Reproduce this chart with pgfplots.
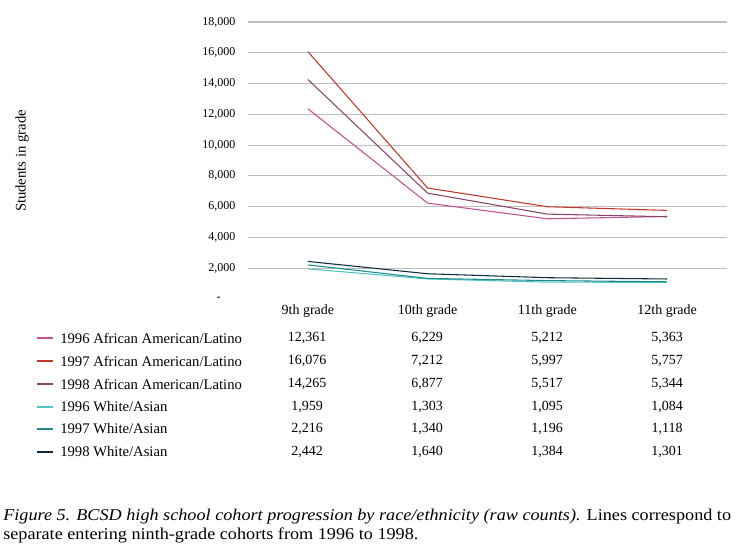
\documentclass[border=0pt]{standalone}
\usepackage{fontspec}
\setmainfont{Liberation Serif}
\newfontfamily\capfont[FakeStretch=1.1]{Liberation Serif}
\usepackage{pgfplots}
\pgfplotsset{compat=1.18}

\definecolor{aa96}{HTML}{C4508E}
\definecolor{aa97}{HTML}{C0392B}
\definecolor{aa98}{HTML}{86446A}
\definecolor{wa96}{HTML}{4EC3C3}
\definecolor{wa97}{HTML}{1F8A8C}
\definecolor{wa98}{HTML}{0F2C3C}

\begin{document}
\begin{tikzpicture}[x=0.75pt,y=-0.75pt]
\useasboundingbox (0,0) rectangle (738,549);

\begin{axis}[
  at={(186pt,-224.25pt)}, anchor=south west,
  scale only axis,
  width=359.25pt, height=207.75pt,
  xmin=-0.5, xmax=3.5,
  ymin=0, ymax=18000,
  axis line style={draw=none},
  tick style={draw=none},
  scaled y ticks=false,
  xtick={0,1,2,3},
  xticklabels={9th grade,10th grade,11th grade,12th grade},
  xticklabel style={font=\fontsize{10.5}{12}\selectfont, yshift=-1pt},
  ytick={2000,4000,...,18000},
  yticklabels={{2,000},{4,000},{6,000},{8,000},{10,000},{12,000},{14,000},{16,000},{18,000}},
  extra y ticks={0},
  extra y tick labels={{-\hspace*{11pt}}},
  extra y tick style={grid=none},
  yticklabel style={font=\fontsize{9}{11}\selectfont, xshift=-6pt},
  ymajorgrids,
  grid style={draw=black!25, line width=0.9pt},
  every axis plot/.append style={line width=0.8pt, mark=none},
  clip=false
]
% ninth-grade cohorts, raw counts per grade
\addplot[aa96] coordinates {(0,12361) (1,6229) (2,5212) (3,5363)};
\addplot[aa97] coordinates {(0,16076) (1,7212) (2,5997) (3,5757)};
\addplot[aa98] coordinates {(0,14265) (1,6877) (2,5517) (3,5344)};
\addplot[wa96] coordinates {(0,1959) (1,1303) (2,1095) (3,1084)};
\addplot[wa97] coordinates {(0,2216) (1,1340) (2,1196) (3,1118)};
\addplot[wa98] coordinates {(0,2442) (1,1640) (2,1384) (3,1301)};
\end{axis}

% y label
\node[rotate=90, font=\fontsize{11}{13}\selectfont] at (22,161) {Students in grade};

% data table below the chart
\begin{scope}[font=\fontsize{11}{13}\selectfont]
\draw[aa96, line width=0.8pt] (37,338) -- (53,338);
\draw[aa97, line width=0.8pt] (37,361) -- (53,361);
\draw[aa98, line width=0.8pt] (37,384) -- (53,384);
\draw[wa96, line width=0.8pt] (37,407) -- (53,407);
\draw[wa97, line width=0.8pt] (37,429) -- (53,429);
\draw[wa98, line width=0.8pt] (37,452) -- (53,452);
\node[anchor=west, inner sep=0pt] at (60,338) {1996 African American/Latino};
\node[anchor=west, inner sep=0pt] at (60,361) {1997 African American/Latino};
\node[anchor=west, inner sep=0pt] at (60,384) {1998 African American/Latino};
\node[anchor=west, inner sep=0pt] at (60,407) {1996 White/Asian};
\node[anchor=west, inner sep=0pt] at (60,429) {1997 White/Asian};
\node[anchor=west, inner sep=0pt] at (60,452) {1998 White/Asian};
\end{scope}
\begin{scope}[font=\fontsize{10.5}{12}\selectfont]
\node at (307,338) {12,361}; \node at (427,338) {6,229}; \node at (547,338) {5,212}; \node at (667,338) {5,363};
\node at (307,361) {16,076}; \node at (427,361) {7,212}; \node at (547,361) {5,997}; \node at (667,361) {5,757};
\node at (307,384) {14,265}; \node at (427,384) {6,877}; \node at (547,384) {5,517}; \node at (667,384) {5,344};
\node at (307,407) {1,959};  \node at (427,407) {1,303}; \node at (547,407) {1,095}; \node at (667,407) {1,084};
\node at (307,429) {2,216};  \node at (427,429) {1,340}; \node at (547,429) {1,196}; \node at (667,429) {1,118};
\node at (307,452) {2,442};  \node at (427,452) {1,640}; \node at (547,452) {1,384}; \node at (667,452) {1,301};
\end{scope}

% caption
\begin{scope}[font=\capfont\fontsize{12.4}{14}\selectfont]
\node[anchor=base west, inner sep=0pt] at (3,520) {\textit{Figure 5. BCSD high school cohort progression by race/ethnicity (raw counts).} Lines correspond to};
\node[anchor=base west, inner sep=0pt] at (3,539) {separate entering ninth-grade cohorts from 1996 to 1998.};
\end{scope}
\end{tikzpicture}
\end{document}
